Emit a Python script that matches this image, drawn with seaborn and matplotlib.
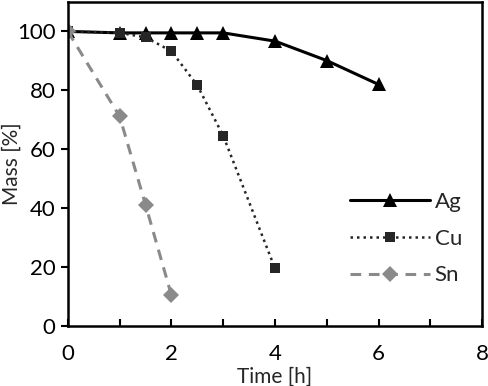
import matplotlib
matplotlib.use('Agg')
import matplotlib.pyplot as plt
from matplotlib.ticker import MultipleLocator
import seaborn as sns
import pandas as pd

# -- data --
ag_time = [0, 1, 1.5, 2, 2.5, 3, 4, 5, 6]
ag_mass = [100, 99.5, 99.5, 99.5, 99.5, 99.5, 96.7, 90.1, 82.0]
cu_time = [0, 1, 1.5, 2, 2.5, 3, 4]
cu_mass = [100, 99.5, 98.0, 93.3, 81.7, 64.6, 19.6]
sn_time = [0, 1, 1.5, 2]
sn_mass = [100, 71.2, 41.2, 10.5]

sns.set_theme(style='white')
plt.rcParams['font.family'] = ['Lato', 'DejaVu Sans']

fig = plt.figure(figsize=(4.88, 3.86), dpi=100)
ax = fig.add_axes([0.139, 0.155, 0.849, 0.84])

series = [
    ('Ag', ag_time, ag_mass, dict(color='black', linestyle='-', linewidth=2.2,
                                  marker='^', markersize=10)),
    ('Cu', cu_time, cu_mass, dict(color='#262626', linestyle=(0, (1, 1.6)), linewidth=1.8,
                                  marker='s', markersize=7.5)),
    ('Sn', sn_time, sn_mass, dict(color='#8a8a8a', linestyle=(0, (3.5, 2.5)), linewidth=2.2,
                                  marker='D', markersize=8)),
]
for name, t, m, style in series:
    df = pd.DataFrame({'Time': t, 'Mass': m})
    sns.lineplot(data=df, x='Time', y='Mass', ax=ax, label=name,
                 markeredgewidth=0, **style)

ax.set_xlim(0, 8)
ax.set_ylim(0, 110)
ax.set_yticks([0, 20, 40, 60, 80, 100])
ax.xaxis.set_major_locator(MultipleLocator(2))
ax.xaxis.set_minor_locator(MultipleLocator(1))
ax.tick_params(axis='x', which='both', direction='in', length=5, width=1.5,
               pad=13, labelsize=16, colors='black', bottom=True)
ax.tick_params(axis='y', direction='out', length=5, width=1.5, pad=4,
               labelsize=16, colors='black', left=True)
for sp in ax.spines.values():
    sp.set_color('black')
    sp.set_linewidth(1.8)

ax.set_xlabel('Time [h]', fontsize=15)
ax.xaxis.set_label_coords(0.5, -0.125)
ax.set_ylabel('Mass [%]', fontsize=15)
ax.yaxis.set_label_coords(-0.112, 0.5)

leg = ax.legend(loc='center right', bbox_to_anchor=(1.0, 0.27), frameon=False,
                fontsize=16, handlelength=3.6, labelspacing=0.75, handletextpad=0.2)

fig.savefig('out.png', dpi=100, facecolor='white')
